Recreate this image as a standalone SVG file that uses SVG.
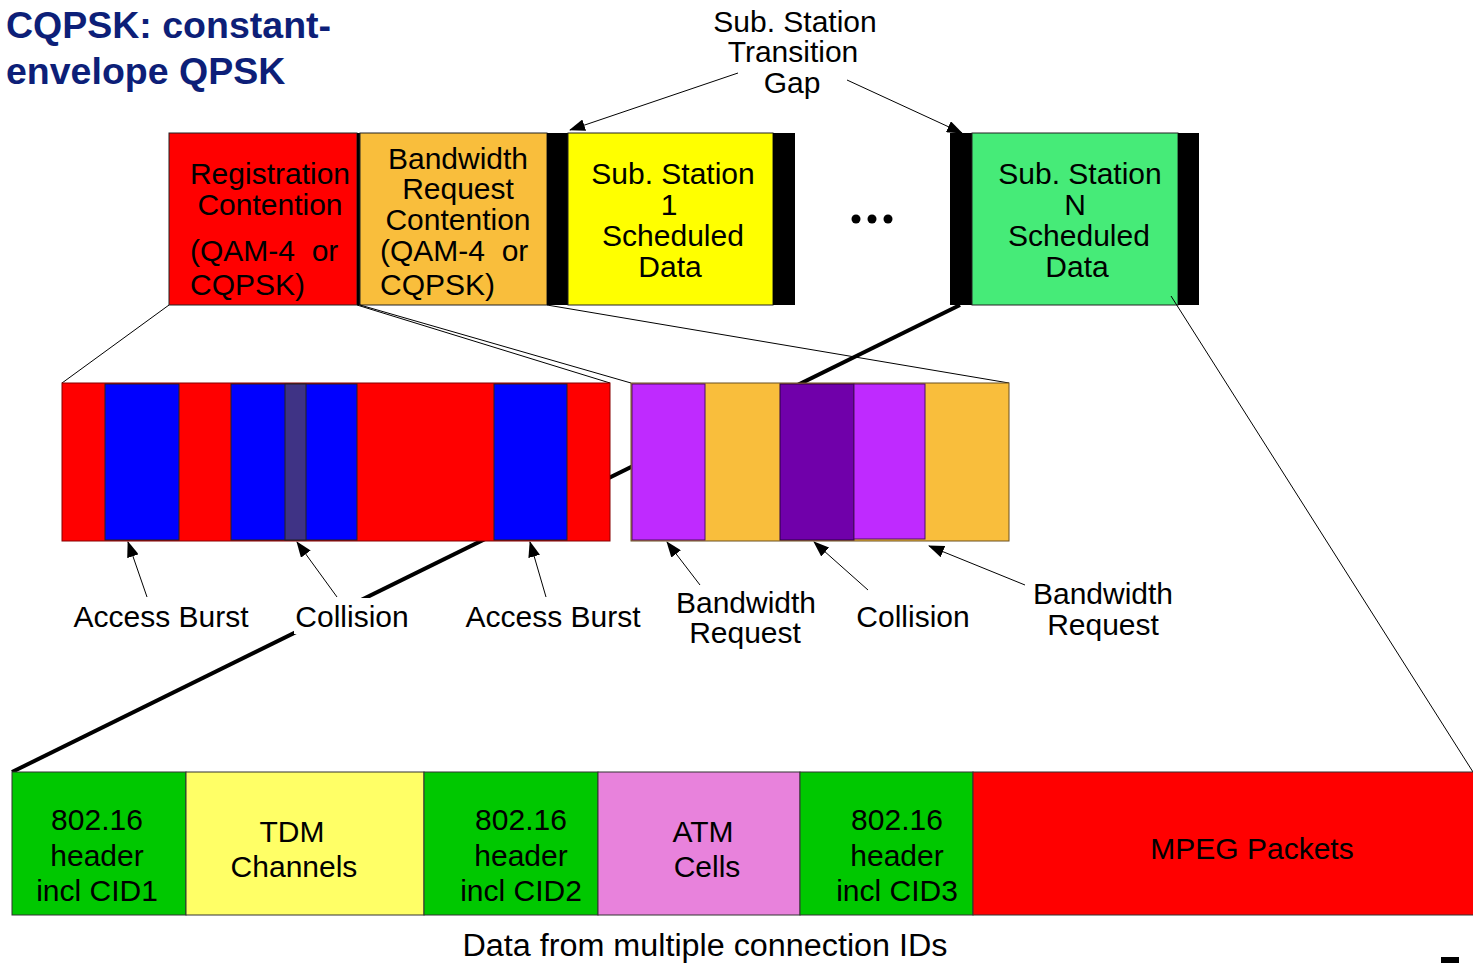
<svg xmlns="http://www.w3.org/2000/svg" width="1473" height="963" viewBox="0 0 1473 963">
  <defs>
    <marker id="arrow" viewBox="0 0 16 12" refX="15" refY="6" markerWidth="16" markerHeight="12" markerUnits="userSpaceOnUse" orient="auto">
      <path d="M0,0 L16,6 L0,12 Z" fill="#000"/>
    </marker>
    <style>
      text { font-family: "Liberation Sans", Arial, sans-serif; fill: #000; }
      .t { font-size: 30px; text-anchor: middle; }
      .tl { font-size: 30px; }
      .title { font-size: 37.5px; font-weight: bold; fill: #0D1F78; }
      .frame { stroke: #222; stroke-width: 1; }
      .thin { stroke: #000; stroke-width: 1; fill: none; }
      .thick { stroke: #000; stroke-width: 4; fill: none; }
      .ptr { stroke: #000; stroke-width: 1; fill: none; marker-end: url(#arrow); }
    </style>
  </defs>
  <rect width="1473" height="963" fill="#fff"/>

  <!-- Title -->
  <g id="title">
    <text class="title" x="6" y="38">CQPSK: constant-</text>
    <text class="title" x="6" y="84">envelope QPSK</text>
  </g>

  <!-- Top frame: contention slots and scheduled data -->
  <g id="reg-contention">
    <rect x="169" y="133" width="188" height="172" fill="#FF0000" class="frame"/>
    <text class="t" x="270" y="184">Registration</text>
    <text class="t" x="270" y="215">Contention</text>
    <text class="tl" x="190" y="261" xml:space="preserve">(QAM-4  or</text>
    <text class="tl" x="190" y="295">CQPSK)</text>
  </g>
  <rect x="357" y="133" width="3" height="172" fill="#000"/>
  <g id="bw-contention">
    <rect x="360" y="133" width="187" height="172" fill="#F9BE3C" class="frame"/>
    <text class="t" x="458" y="169">Bandwidth</text>
    <text class="t" x="458" y="199">Request</text>
    <text class="t" x="458" y="230">Contention</text>
    <text class="tl" x="380" y="261" xml:space="preserve">(QAM-4  or</text>
    <text class="tl" x="380" y="295">CQPSK)</text>
  </g>
  <g id="ss1">
    <rect x="547" y="133" width="21" height="172" fill="#000"/>
    <rect x="568" y="133" width="205" height="172" fill="#FFFF00" class="frame"/>
    <rect x="773" y="133" width="22" height="172" fill="#000"/>
    <text class="t" x="673" y="184">Sub. Station</text>
    <text class="t" x="669" y="215">1</text>
    <text class="t" x="673" y="246">Scheduled</text>
    <text class="t" x="670" y="277">Data</text>
  </g>
  <g id="ellipsis">
    <circle cx="856" cy="219" r="4.5" fill="#000"/>
    <circle cx="872" cy="219" r="4.5" fill="#000"/>
    <circle cx="888" cy="219" r="4.5" fill="#000"/>
  </g>
  <g id="ssN">
    <rect x="950" y="133" width="22" height="172" fill="#000"/>
    <rect x="972" y="133" width="206" height="172" fill="#46EB78" class="frame"/>
    <rect x="1178" y="133" width="21" height="172" fill="#000"/>
    <text class="t" x="1080" y="184">Sub. Station</text>
    <text class="t" x="1075" y="215">N</text>
    <text class="t" x="1079" y="246">Scheduled</text>
    <text class="t" x="1077" y="277">Data</text>
  </g>

  <!-- Transition gap label -->
  <g id="gap-label">
    <text class="t" x="795" y="32">Sub. Station</text>
    <text class="t" x="793" y="62">Transition</text>
    <text class="t" x="792" y="93">Gap</text>
  </g>

  <!-- Connectors -->
  <g id="connectors">
    <line class="ptr" x1="738" y1="73" x2="570" y2="130"/>
    <line class="ptr" x1="847" y1="80" x2="962" y2="133"/>
    <line class="thin" x1="169" y1="305" x2="62" y2="383"/>
    <line class="thin" x1="357" y1="305" x2="610" y2="383"/>
    <line class="thin" x1="360" y1="305" x2="631" y2="383"/>
    <line class="thin" x1="547" y1="305" x2="1009" y2="383"/>
    <line class="thick" x1="960" y1="305" x2="12" y2="772"/>
    <line class="thin" x1="1171" y1="296" x2="1473" y2="772"/>
    <line class="ptr" x1="147" y1="597" x2="128" y2="542"/>
    <line class="ptr" x1="337" y1="597" x2="297" y2="542"/>
    <line class="ptr" x1="546" y1="597" x2="530" y2="542"/>
    <line class="ptr" x1="700" y1="585" x2="667" y2="542"/>
    <line class="ptr" x1="868" y1="590" x2="814" y2="542"/>
    <line class="ptr" x1="1025" y1="585" x2="929" y2="546"/>
  </g>

  <!-- Registration contention slots -->
  <g id="reg-slots">
    <rect x="62" y="383" width="548" height="158" fill="#FF0000" stroke="#800" stroke-width="1"/>
    <rect x="105" y="384" width="74" height="156" fill="#0000FF" class="frame"/>
    <rect x="231" y="384" width="126" height="156" fill="#0000FF" class="frame"/>
    <rect x="285" y="384" width="21" height="156" fill="#3F3385" class="frame"/>
    <rect x="494" y="384" width="73" height="156" fill="#0000FF" class="frame"/>
  </g>

  <!-- Bandwidth request contention slots -->
  <g id="bw-slots">
    <rect x="631" y="383" width="378" height="158" fill="#F9BE3C" stroke="#6B5020" stroke-width="1"/>
    <rect x="632" y="384" width="73" height="156" fill="#BF2AFF" stroke="#4A1060" stroke-width="1"/>
    <rect x="780" y="384" width="74" height="156" fill="#7000AA" stroke="#2A0040" stroke-width="1"/>
    <rect x="854" y="384" width="71" height="155" fill="#BF2AFF" stroke="#4A1060" stroke-width="1"/>
  </g>

  <!-- Slot labels -->
  <g id="slot-labels">
    <text class="t" x="161" y="627">Access Burst</text>
    <rect x="294" y="598" width="116" height="36" fill="#fff"/>
    <text class="t" x="352" y="627">Collision</text>
    <text class="t" x="553" y="627">Access Burst</text>
    <text class="t" x="746" y="613">Bandwidth</text>
    <text class="t" x="745" y="643">Request</text>
    <text class="t" x="913" y="627">Collision</text>
    <text class="t" x="1103" y="604">Bandwidth</text>
    <text class="t" x="1103" y="635">Request</text>
  </g>

  <!-- Scheduled data burst contents -->
  <g id="hdr1">
    <rect x="12" y="772" width="174" height="143" fill="#00C800" stroke="#333" stroke-width="1"/>
    <text class="t" x="97" y="830">802.16</text>
    <text class="t" x="97" y="866">header</text>
    <text class="t" x="97" y="901">incl CID1</text>
  </g>
  <g id="tdm">
    <rect x="186" y="772" width="238" height="143" fill="#FFFF66" stroke="#333" stroke-width="1"/>
    <text class="t" x="292" y="842">TDM</text>
    <text class="t" x="294" y="877">Channels</text>
  </g>
  <g id="hdr2">
    <rect x="424" y="772" width="174" height="143" fill="#00C800" stroke="#333" stroke-width="1"/>
    <text class="t" x="521" y="830">802.16</text>
    <text class="t" x="521" y="866">header</text>
    <text class="t" x="521" y="901">incl CID2</text>
  </g>
  <g id="atm">
    <rect x="598" y="772" width="202" height="143" fill="#E882DC" stroke="#333" stroke-width="1"/>
    <text class="t" x="703" y="842">ATM</text>
    <text class="t" x="707" y="877">Cells</text>
  </g>
  <g id="hdr3">
    <rect x="800" y="772" width="173" height="143" fill="#00C800" stroke="#333" stroke-width="1"/>
    <text class="t" x="897" y="830">802.16</text>
    <text class="t" x="897" y="866">header</text>
    <text class="t" x="897" y="901">incl CID3</text>
  </g>
  <g id="mpeg">
    <rect x="973" y="772" width="501" height="143" fill="#FF0000" stroke="#333" stroke-width="1"/>
    <text class="t" x="1252" y="859">MPEG Packets</text>
  </g>

  <g id="caption">
    <text class="t" x="705" y="956" style="font-size:31px" textLength="485" lengthAdjust="spacingAndGlyphs">Data from multiple connection IDs</text>
  </g>
  <rect x="1441" y="957" width="18" height="6" fill="#000"/>
</svg>
